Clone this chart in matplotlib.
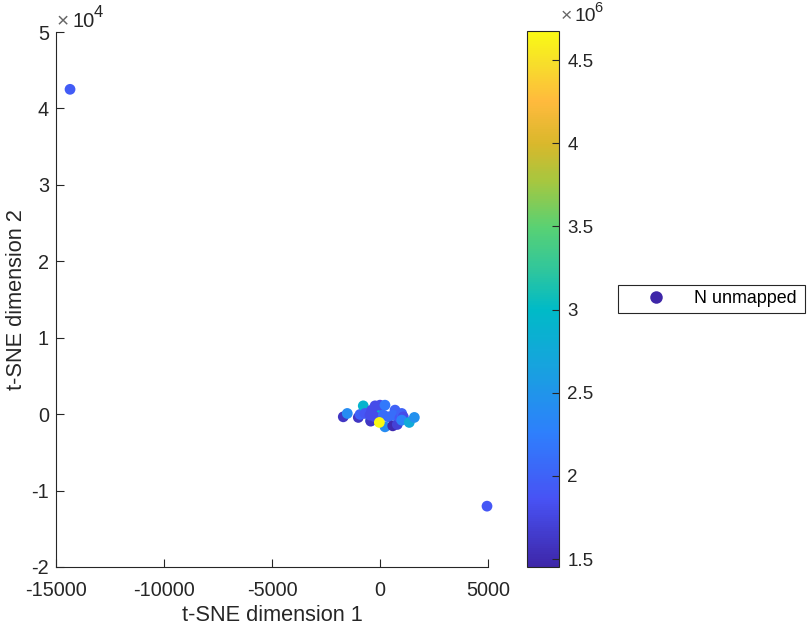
import numpy as np
import matplotlib.pyplot as plt
from matplotlib.colors import LinearSegmentedColormap, Normalize
from matplotlib.cm import ScalarMappable
from matplotlib.lines import Line2D

plt.rcParams["font.family"] = ["Liberation Sans", "DejaVu Sans"]

# points, drawn in this order
tsne_x = [-14350, 4954, -1700, -1515, -1005, -925, -775, -695, -430, -430, -125, -465, -385, -230,
          -230, 0, 230, 230, 155, 385, 590, 800, 695, 615, 925, 1005, 1080, 1005, 1355, 1590, -30]
tsne_y = [42500, -12040, -350, 90, -430, -40, 1085, 90, -825, -915, 525, -130, 525, -350,
          1085, 1175, 1175, -1660, -130, -350, -1530, -1350, 525, -130, -520, 90, -350, -785, -1085, -430, -1085]
n_unmapped = [1.95e6, 1.9e6, 1.6e6, 2.4e6, 1.6e6, 2.0e6, 2.9e6, 1.9e6, 2.6e6, 1.6e6, 2.9e6, 1.8e6, 1.8e6, 1.8e6,
              1.8e6, 1.8e6, 2.2e6, 2.4e6, 2.1e6, 2.1e6, 1.5e6, 1.7e6, 2.0e6, 2.1e6, 1.9e6, 2.0e6, 1.8e6, 2.3e6, 2.75e6, 2.45e6, 4.67e6]

x_ticks = [-15000, -10000, -5000, 0, 5000]
y_ticks = [-20000, -10000, 0, 10000, 20000, 30000, 40000, 50000]
y_labels = ["-2", "-1", "0", "1", "2", "3", "4", "5"]
cbar_ticks = [1.5e6, 2e6, 2.5e6, 3e6, 3.5e6, 4e6, 4.5e6]
cbar_labels = ["1.5", "2", "2.5", "3", "3.5", "4", "4.5"]

# rough parula
parula = LinearSegmentedColormap.from_list("parula", [
    (0.0, (0.2422, 0.1504, 0.6603)),
    (0.125, (0.2810, 0.3228, 0.9579)),
    (0.25, (0.18, 0.50, 0.99)),
    (0.375, (0.09, 0.64, 0.87)),
    (0.48, (0.0, 0.73, 0.78)),
    (0.56, (0.2, 0.78, 0.6)),
    (0.635, (0.35, 0.82, 0.45)),
    (0.72, (0.65, 0.78, 0.25)),
    (0.79, (0.85, 0.72, 0.17)),
    (0.87, (1.0, 0.73, 0.24)),
    (0.94, (0.97, 0.87, 0.17)),
    (1.0, (0.98, 0.98, 0.08)),
])
norm = Normalize(1.452e6, 4.675e6)

W, H = 808, 624
TEXT = "#262626"
fig = plt.figure(figsize=(W / 100, H / 100), dpi=100)
ax = fig.add_axes([56 / W, 1 - 567 / H, 432 / W, 535 / H])

ax.scatter(tsne_x, tsne_y, c=n_unmapped, cmap=parula, norm=norm, s=60, linewidths=0, zorder=3, clip_on=False)
ax.set_xlim(-15000, 5000)
ax.set_ylim(-20000, 50000)
ax.set_xticks(x_ticks)
ax.set_xticklabels([str(t) for t in x_ticks])
ax.set_yticks(y_ticks)
ax.set_yticklabels(y_labels)
ax.spines["top"].set_visible(False)
ax.spines["right"].set_visible(False)
for s in ["left", "bottom"]:
    ax.spines[s].set_color(TEXT)
    ax.spines[s].set_linewidth(0.8)
ax.tick_params(direction="in", length=5.5, width=0.8, color=TEXT, labelcolor=TEXT, labelsize=14.3)
ax.tick_params(axis="x", pad=10)
ax.tick_params(axis="y", pad=5)
ax.set_xlabel("t-SNE dimension 1", fontsize=15.7, color=TEXT, labelpad=4)
ax.set_ylabel("t-SNE dimension 2", fontsize=15.7, color=TEXT, labelpad=3)

# exponent labels, matlab style
fig.text(57 / W, 1 - 27 / H, "\u00d7", fontsize=15, color="#666666", va="baseline")
fig.text(73 / W, 1 - 27 / H, "10", fontsize=14.5, color=TEXT, va="baseline")
fig.text(94 / W, 1 - 17 / H, "4", fontsize=12, color=TEXT, va="baseline")

cax = fig.add_axes([527 / W, 1 - 567 / H, 32 / W, 536 / H])
cbar = fig.colorbar(ScalarMappable(norm=norm, cmap=parula), cax=cax)
cbar.set_ticks(cbar_ticks)
cbar.set_ticklabels(cbar_labels)
cbar.outline.set_edgecolor(TEXT)
cbar.outline.set_linewidth(0.8)
cax.tick_params(direction="in", length=5, width=0.8, color=TEXT, labelcolor=TEXT, labelsize=13.5, pad=6)
fig.text(561 / W, 1 - 21 / H, "\u00d7", fontsize=14, color="#666666", va="baseline")
fig.text(574 / W, 1 - 21 / H, "10", fontsize=13.9, color=TEXT, va="baseline")
fig.text(594 / W, 1 - 12 / H, "6", fontsize=10.5, color=TEXT, va="baseline")

handle = Line2D([], [], linestyle="none", marker="o", markersize=9, markeredgewidth=0,
                markerfacecolor=parula(0.0), label="N unmapped")
fig.legend(handles=[handle], loc="upper left", bbox_to_anchor=(618 / W, 1 - 313 / H, 187 / W, 28 / H),
           mode="expand", borderaxespad=0, fontsize=12.9, frameon=True, fancybox=False, framealpha=1,
           edgecolor="#262626", labelcolor="black", handletextpad=0.31, handlelength=3.63,
           borderpad=0.3).get_frame().set_linewidth(0.8)

fig.savefig("out.png", dpi=100)
